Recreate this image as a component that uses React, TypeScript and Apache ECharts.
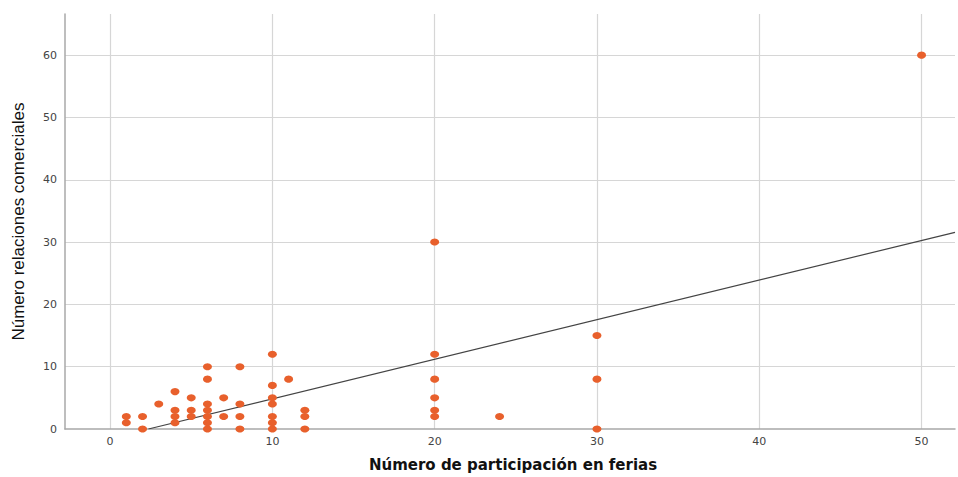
import React, { useEffect, useRef } from "react";
import * as echarts from "echarts";

// x: Número de participación en ferias, y: Número relaciones comerciales
const ferias = [1, 1, 2, 2, 3, 4, 4, 4, 4, 5, 5, 5, 6, 6, 6, 6, 6, 6, 6, 7, 7, 8, 8, 8, 8, 10, 10, 10, 10, 10, 10, 10, 11, 12, 12, 12, 20, 20, 20, 20, 20, 20, 24, 30, 30, 30, 50];
const relaciones = [2, 1, 2, 0, 4, 6, 3, 2, 1, 5, 3, 2, 10, 8, 4, 3, 2, 1, 0, 5, 2, 10, 4, 2, 0, 12, 7, 5, 4, 2, 1, 0, 8, 3, 2, 0, 30, 12, 8, 5, 3, 2, 2, 15, 8, 0, 60];

const xTicks = [0, 10, 20, 30, 40, 50];
const yTicks = [0, 10, 20, 30, 40, 50, 60];

const fitSlope = 0.635;
const fitIntercept = -1.5;
const xMin = -2.78;
const xMax = 52.06;
const yMin = 0;
const yMax = 66.6;

export default function App() {
  const ref = useRef<HTMLDivElement>(null);
  useEffect(() => {
    if (!ref.current) return;
    const chart = echarts.init(ref.current, null, { renderer: "svg" });
    const points = ferias.map((x, i) => [x, relaciones[i]]);
    const xStart = (0 - fitIntercept) / fitSlope;
    const fitLine = [
      [xStart, fitIntercept + fitSlope * xStart],
      [xMax, fitIntercept + fitSlope * xMax],
    ];
    const gridColor = "#d6d6d6";
    chart.setOption({
      animation: false,
      grid: { left: 65, right: 0, top: 14, bottom: 48, containLabel: false },
      xAxis: {
        type: "value",
        min: xMin,
        max: xMax,
        splitLine: { show: false },
        axisTick: { show: false },
        axisLine: { show: true, onZero: false, lineStyle: { color: "#a8a8a8", width: 1.5 } },
        axisLabel: {
          color: "#444",
          fontFamily: "DejaVu Sans",
          fontSize: 11,
          margin: 7,
          formatter: (v: number) => (xTicks.indexOf(Math.round(v * 1000) / 1000) >= 0 ? String(v) : ""),
        },
        name: "Número de participación en ferias",
        nameLocation: "middle",
        nameGap: 28,
        nameTextStyle: {
          color: "#111",
          fontFamily: "DejaVu Sans",
          fontWeight: "bold",
          fontSize: 15,
          padding: [0, 0, 0, 6],
        },
      },
      yAxis: {
        type: "value",
        min: yMin,
        max: yMax,
        splitLine: { show: false },
        axisTick: { show: false },
        axisLine: { show: true, onZero: false, lineStyle: { color: "#a8a8a8", width: 1.5 } },
        axisLabel: {
          color: "#444",
          fontFamily: "DejaVu Sans",
          fontSize: 11,
          margin: 8,
          formatter: (v: number) => (yTicks.indexOf(Math.round(v * 1000) / 1000) >= 0 ? String(v) : ""),
        },
        name: "Número relaciones comerciales",
        nameLocation: "middle",
        nameRotate: 90,
        nameGap: 38,
        nameTextStyle: { color: "#111", fontFamily: "'Liberation Sans', Arial", fontSize: 17 },
      },
      series: [
        {
          type: "line",
          data: [],
          z: 0,
          silent: true,
          markLine: {
            silent: true,
            z: 0,
            symbol: "none",
            label: { show: false },
            lineStyle: { color: gridColor, width: 1.2, type: "solid" },
            data: [
              ...xTicks.map((v) => ({ xAxis: v })),
              ...yTicks.filter((v) => v > 0).map((v) => ({ yAxis: v })),
            ],
          },
        },
        {
          type: "line",
          data: fitLine,
          showSymbol: false,
          symbol: "none",
          z: 2,
          lineStyle: { color: "#444", width: 1.2 },
          silent: true,
        },
        {
          type: "scatter",
          data: points,
          z: 3,
          symbol: "circle",
          symbolSize: [9, 7],
          itemStyle: { color: "#e8602c", opacity: 1 },
        },
      ],
    });
    return () => chart.dispose();
  }, []);
  return <div ref={ref} style={{ width: 958, height: 477, position: "absolute", left: 0, top: 0 }} />;
}
